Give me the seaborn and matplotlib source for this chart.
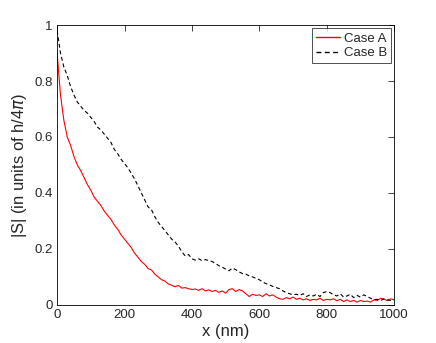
import numpy as np
import pandas as pd
import matplotlib
matplotlib.use("Agg")
import matplotlib.pyplot as plt
import seaborn as sns

# values (every 10 nm)
x_nm = list(range(0, 1001, 10))

case_a = [0.90, 0.75, 0.66, 0.60, 0.57, 0.53, 0.50, 0.48, 0.455, 0.43,
          0.41, 0.385, 0.37, 0.355, 0.335, 0.32, 0.305, 0.285, 0.27, 0.25,
          0.235, 0.22, 0.205, 0.185, 0.17, 0.155, 0.145, 0.13, 0.125, 0.11,
          0.10, 0.09, 0.085, 0.075, 0.07, 0.065, 0.07, 0.06, 0.062, 0.058,
          0.055, 0.057, 0.052, 0.058, 0.05, 0.054, 0.048, 0.052, 0.045, 0.05,
          0.042, 0.055, 0.058, 0.048, 0.055, 0.05, 0.04, 0.03, 0.038, 0.034,
          0.036, 0.03, 0.04, 0.032, 0.036, 0.028, 0.022, 0.02, 0.026, 0.022,
          0.028, 0.02, 0.024, 0.018, 0.022, 0.016, 0.02, 0.018, 0.024, 0.016,
          0.02, 0.018, 0.022, 0.015, 0.02, 0.012, 0.018, 0.012, 0.016, 0.01,
          0.016, 0.012, 0.014, 0.01, 0.018, 0.016, 0.024, 0.02, 0.016, 0.022,
          0.018]

case_b = [0.98, 0.90, 0.85, 0.82, 0.78, 0.75, 0.725, 0.71, 0.695, 0.685,
          0.67, 0.655, 0.635, 0.625, 0.61, 0.595, 0.58, 0.555, 0.54, 0.52,
          0.505, 0.49, 0.47, 0.45, 0.425, 0.40, 0.375, 0.35, 0.34, 0.315,
          0.295, 0.28, 0.265, 0.25, 0.235, 0.225, 0.21, 0.19, 0.175, 0.18,
          0.165, 0.16, 0.165, 0.158, 0.162, 0.158, 0.155, 0.148, 0.14, 0.135,
          0.128, 0.122, 0.132, 0.126, 0.118, 0.112, 0.11, 0.104, 0.10, 0.095,
          0.09, 0.082, 0.076, 0.072, 0.066, 0.062, 0.058, 0.05, 0.044, 0.04,
          0.036, 0.038, 0.034, 0.04, 0.03, 0.036, 0.032, 0.038, 0.03, 0.044,
          0.048, 0.044, 0.036, 0.032, 0.04, 0.028, 0.032, 0.038, 0.026, 0.034,
          0.028, 0.036, 0.03, 0.024, 0.018, 0.02, 0.016, 0.022, 0.018, 0.016,
          0.02]

x_ticks = [0, 200, 400, 600, 800, 1000]
y_ticks = [0, 0.2, 0.4, 0.6, 0.8, 1]
y_tick_labels = ["0", "0.2", "0.4", "0.6", "0.8", "1"]

df = pd.DataFrame({
    "x": x_nm * 2,
    "S": case_a + case_b,
    "case": ["Case A"] * len(x_nm) + ["Case B"] * len(x_nm),
})

sns.set_style("white")
plt.rcParams["font.family"] = ["Liberation Sans", "DejaVu Sans"]
plt.rcParams["xtick.direction"] = "in"
plt.rcParams["ytick.direction"] = "in"

fig = plt.figure(figsize=(4.36, 3.43), dpi=100)
ax = fig.add_axes([0.131, 0.111, 0.773, 0.816])

sns.lineplot(data=df, x="x", y="S", hue="case", style="case",
             palette={"Case A": "#ff0000", "Case B": "black"},
             dashes={"Case A": "", "Case B": (3.5, 2.5)},
             linewidth=0.8, ax=ax)

ax.set_xlim(0, 1000)
ax.set_ylim(0, 1)
ax.set_xticks(x_ticks)
ax.set_yticks(y_ticks)
ax.set_yticklabels(y_tick_labels)
ax.tick_params(axis="both", labelsize=9.5, length=4, width=0.6,
               top=True, right=True, pad=3)
for s in ax.spines.values():
    s.set_linewidth(0.6)
    s.set_color("black")

ax.set_xlabel("x (nm)", fontsize=12, labelpad=2)
ax.set_ylabel("|S| (in units of h/4$\\pi$)", fontsize=12, labelpad=4)

leg = ax.legend(loc="upper right", fontsize=9.5, frameon=True, fancybox=False,
                borderpad=0.3, handlelength=1.8, handletextpad=0.3,
                borderaxespad=0.25, labelspacing=0.2)
leg.get_frame().set_edgecolor("black")
leg.get_frame().set_linewidth(0.6)
for h in leg.get_lines():
    h.set_linewidth(1.0)

fig.savefig("out.png", dpi=100)
